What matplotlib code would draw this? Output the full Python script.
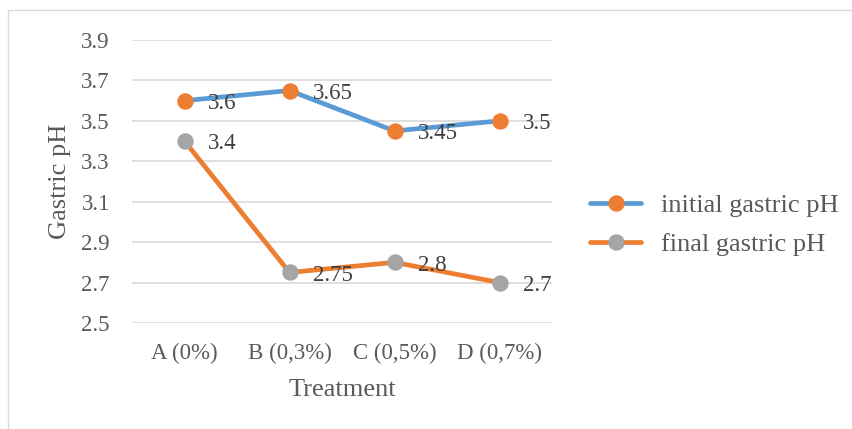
import matplotlib.pyplot as plt
from matplotlib.patches import Rectangle

plt.rcParams['font.family'] = ['Liberation Serif', 'DejaVu Serif']

treatments = ['A (0%)', 'B (0,3%)', 'C (0,5%)', 'D (0,7%)']
initial_ph = [3.6, 3.65, 3.45, 3.5]
final_ph = [3.4, 2.75, 2.8, 2.7]
y_ticks = [2.5, 2.7, 2.9, 3.1, 3.3, 3.5, 3.7, 3.9]

BLUE = '#5B9BD5'
ORANGE = '#ED7D31'
GRAY = '#A5A5A5'
TICK_COLOR = '#595959'
LABEL_COLOR = '#404040'

W, H = 852, 429
fig = plt.figure(figsize=(W / 100, H / 100), dpi=100)

# chart area border
fig.patches.append(Rectangle((8 / W, -0.05), 1.1, 1 - 10 / H + 0.05,
                             transform=fig.transFigure, fill=False,
                             edgecolor='#D9D9D9', linewidth=1.0))

left, right = 132 / W, 552 / W
top_px, bot_px = 40, 323
ax = fig.add_axes([left, 1 - bot_px / H, right - left, (bot_px - top_px) / H])

x = range(len(treatments))
ax.plot(x, initial_ph, color=BLUE, lw=3.4, marker='o', ms=10.8,
        mfc=ORANGE, mec=ORANGE, solid_capstyle='round', label='initial gastric pH', zorder=3)
ax.plot(x, final_ph, color=ORANGE, lw=3.4, marker='o', ms=10.8,
        mfc=GRAY, mec=GRAY, solid_capstyle='round', label='final gastric pH', zorder=3)

for series in (initial_ph, final_ph):
    for i, v in enumerate(series):
        ax.annotate(f'{v:g}', (i, v), xytext=(17, -2), textcoords='offset points',
                    ha='left', va='center', fontsize=16.5, color=LABEL_COLOR, zorder=4)

ax.set_xlim(-0.5, len(treatments) - 0.5)
ax.set_ylim(2.5, 3.9)
ax.set_yticks(y_ticks)
ax.set_yticklabels([f'{t:.1f}' for t in y_ticks])
ax.set_xticks(list(x))
ax.set_xticklabels(treatments)
ax.tick_params(axis='both', length=0, labelsize=16.5, labelcolor=TICK_COLOR)
ax.tick_params(axis='y', pad=16)
ax.tick_params(axis='x', pad=14)
ax.grid(axis='y', color='#D9D9D9', lw=1.2, zorder=0)
ax.set_axisbelow(True)
for s in ax.spines.values():
    s.set_visible(False)

ax.set_xlabel('Treatment', fontsize=19, color=TICK_COLOR, va='center')
ax.xaxis.set_label_coords(0.5, (bot_px - 390) / (bot_px - top_px))
ax.set_ylabel('Gastric pH', fontsize=19, color=TICK_COLOR, va='center')
ax.yaxis.set_label_coords((60 - 132) / (552 - 132), 0.5)

leg = fig.legend(loc='center left', bbox_to_anchor=(590 / W, 1 - 225 / H),
                 frameon=False, fontsize=19, labelcolor=TICK_COLOR,
                 handlelength=1.95, handletextpad=0.75, labelspacing=0.6,
                 borderaxespad=0, borderpad=0)

fig.savefig('out.png', dpi=100)
